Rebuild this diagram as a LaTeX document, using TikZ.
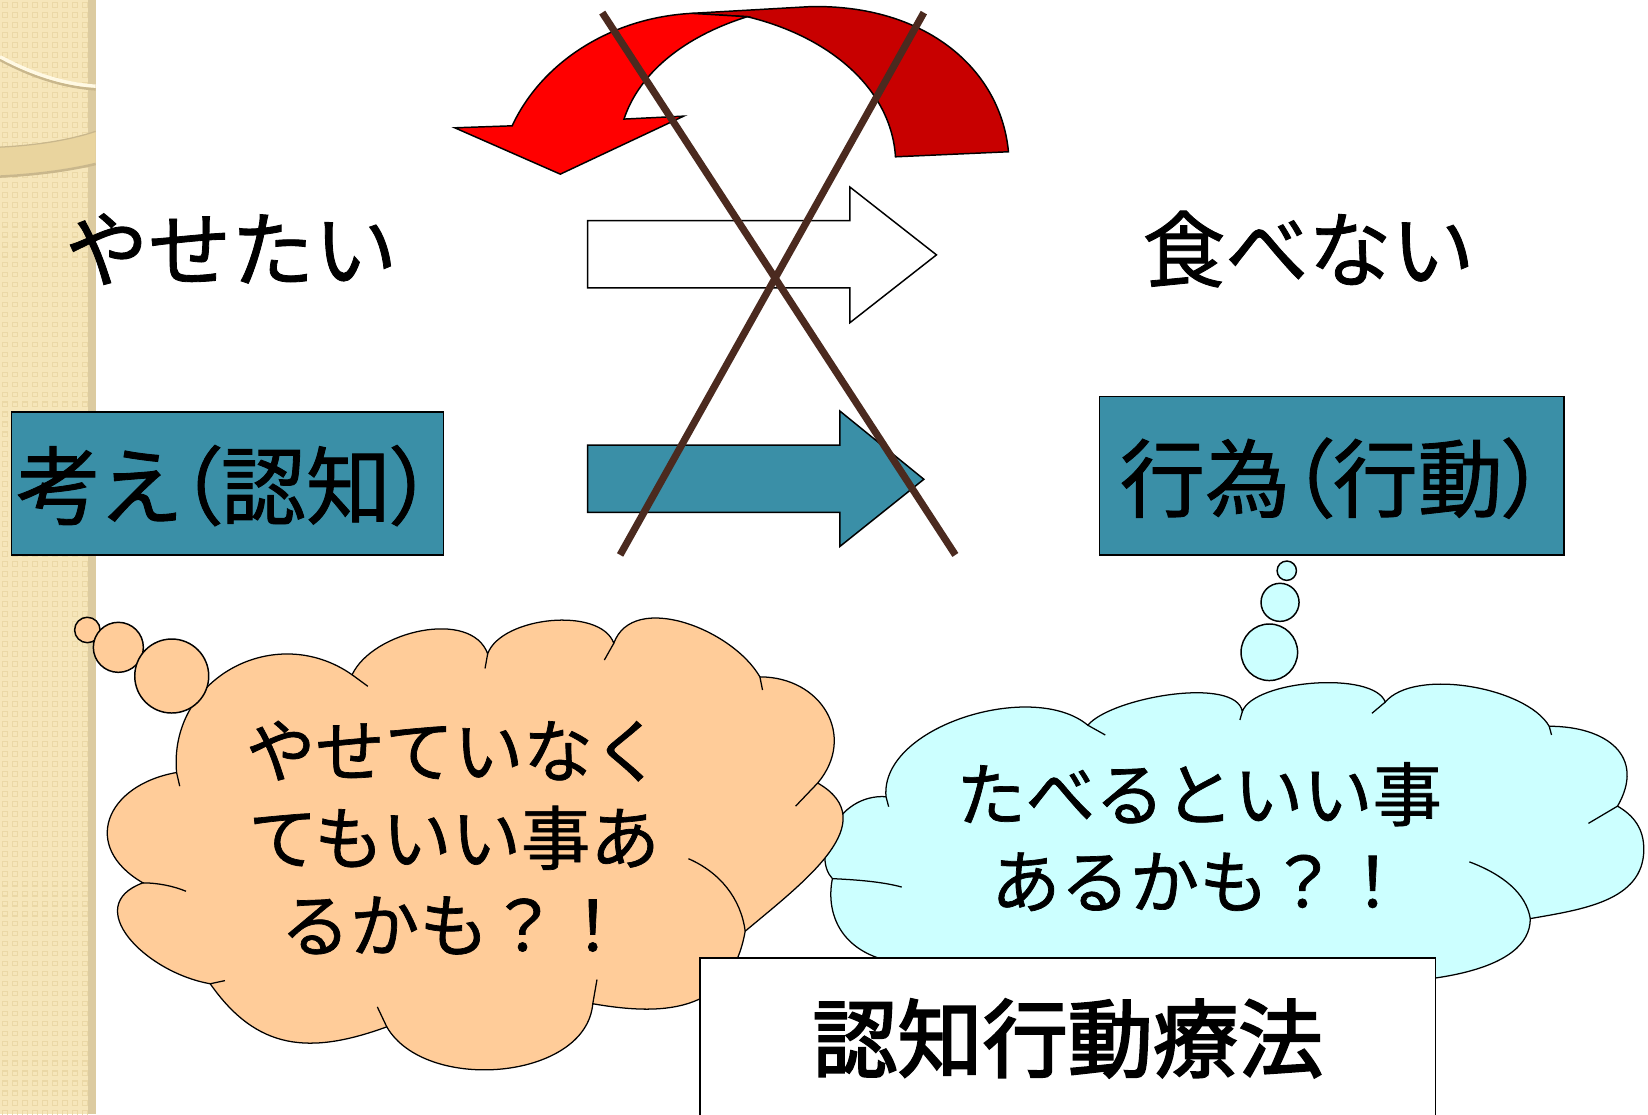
\documentclass[tikz,border=0pt]{standalone}
\usepackage{fontspec}
\newfontfamily\jp[FakeBold=1]{Noto Sans CJK JP}
\newfontfamily\jpp[RawFeature=+palt,FakeBold=1]{Noto Sans CJK JP}
\newfontfamily\jpb[FakeBold=2.5]{Noto Sans CJK JP}
\definecolor{stripbg}{HTML}{F6E6BA}
\definecolor{stripsq}{HTML}{EBD8A6}
\definecolor{stripedge}{HTML}{DCCBA0}
\definecolor{bandfill}{HTML}{E9D49E}
\definecolor{bandline}{HTML}{C9B78C}
\definecolor{creamline}{HTML}{FFF9E4}
\definecolor{tealbox}{HTML}{3A8FA7}
\definecolor{redbright}{HTML}{FF0000}
\definecolor{reddark}{HTML}{C80000}
\definecolor{crossbrown}{HTML}{4B2A1F}
\definecolor{orangefill}{HTML}{FFCC99}
\definecolor{bluefill}{HTML}{CCFFFF}
\begin{document}
\begin{tikzpicture}[x=0.5pt,y=-0.5pt,
  outl/.style={draw=black,line width=0.7pt},
  bigtext/.style={font=\jp\fontsize{39.5}{47}\selectfont,inner sep=0pt},
  boxtext/.style={font=\jpp\fontsize{40.5}{49}\selectfont,inner sep=0pt},
  cloudtext/.style={font=\jp\fontsize{33}{41.5}\selectfont,align=center,inner sep=0pt},
  tealrect/.style={outl,fill=tealbox,inner sep=0pt},
  xline/.style={draw=crossbrown,line width=3.4pt},
  tick/.style={draw=black,line width=0.6pt},
  ocloud/.style={outl,fill=orangefill,line width=0.6pt},
  bcloud/.style={outl,fill=bluefill,line width=0.6pt},
  obubble/.style={outl,fill=orangefill},
  bbubble/.style={outl,fill=bluefill}]
\useasboundingbox (0,0) rectangle (1568,1060);
\clip (0,0) rectangle (1568,1060);
% ---------- left decorative strip ----------
\fill[stripbg] (0,0) rectangle (84,1060);
\foreach \i in {0,...,8}{
  \foreach \j in {0,...,111}{
    \draw[stripsq,line width=0.5pt] (\i*9.5+2.5,\j*9.5+2.5) rectangle ++(4.5,4.5);
  }
}
\fill[stripedge] (84,0) rectangle (91,1060);
\fill[bandfill] (0,140) .. controls (40,138) and (70,132) .. (91,125)
  -- (91,155) .. controls (70,160) and (40,165) .. (0,167) -- cycle;
\draw[bandline,line width=0.6pt] (0,140) .. controls (40,138) and (70,132) .. (91,125);
\draw[bandline,line width=1.2pt] (0,168) .. controls (40,166) and (70,161) .. (91,156);
\draw[bandline,line width=1.2pt] (0,57) .. controls (30,73) and (60,83) .. (91,85);
\draw[creamline,line width=1.6pt] (0,54) .. controls (30,70) and (60,80) .. (91,82);
% ---------- red curved arrow ----------
\path[outl,fill=reddark] (658,12.7) -- (771,6.3) .. controls (880,4) and (952,65) .. (959.5,144.4)
  -- (852,149.2) .. controls (848,85) and (790,35) .. (711,15.9) -- cycle;
\path[outl,fill=redbright] (658,12.7) .. controls (580,17) and (515,60) .. (487.3,119.7)
  -- (432.7,121.6) -- (533.1,165.7) -- (650.5,110.5) -- (593.7,113.3)
  .. controls (608,70) and (650,35) .. (711,15.9) -- cycle;
% ---------- block arrows ----------
\path[outl,fill=white] (559,210) -- (808.7,210) -- (808.7,178) -- (891,242.5)
  -- (808.7,307) -- (808.7,274) -- (559,274) -- cycle;
\path[outl,fill=tealbox] (559,423.5) -- (799,423.5) -- (799,391) -- (879,456)
  -- (799,520) -- (799,487.5) -- (559,487.5) -- cycle;
% ---------- labels ----------
\node[bigtext] (yasetai) at (220,237) {やせたい};
\node[bigtext] (tabenai) at (1245,237) {食べない};
\node[tealrect,minimum width=205.5pt,minimum height=68pt] (ninchi) at (216.5,460) {};
\node[boxtext] (ninchitext) at (214,462) {考え（認知）};
\node[tealrect,minimum width=221pt,minimum height=75.5pt] (koudou) at (1267,452.5) {};
\node[boxtext] (koudoutext) at (1268,455) {行為（行動）};
% ---------- cross ----------
\coordinate (c1a) at (573,12); \coordinate (c1b) at (909,528);
\coordinate (c2a) at (879,12); \coordinate (c2b) at (590,528);
\draw[xline] (c1a) -- (c1b);
\draw[xline] (c2a) -- (c2b);
% ---------- blue cloud ----------
\path[bcloud] (843,758)
  to[out=95,in=140,looseness=0.85] (1035,690)
  to[out=50,in=100,looseness=0.6] (1182,677)
  to[out=70,in=110,looseness=0.6] (1318,668)
  to[out=50,in=120,looseness=0.7] (1474,691)
  to[out=0,in=60,looseness=1.4] (1539,767)
  to[out=-30,in=90] (1564,808)
  to[out=-90,in=10] (1456,874)
  to[out=-90,in=0,looseness=0.8] (1300,935)
  to[out=-100,in=-80,looseness=0.5] (880,918)
  .. controls (800,918) and (785,870) .. (792,836)
  .. controls (772,815) and (795,755) .. (843,758) -- cycle;
\draw[tick] (843,758) -- (845.5,767.5);
\draw[tick] (1035,690) -- (1051.6,699.3);
\draw[tick] (1182,677) -- (1179.7,685);
\draw[tick] (1318,668) -- (1305.3,678.7);
\draw[tick] (1474,691) -- (1476.2,699.3);
\draw[tick] (1539,767) -- (1511.3,783.4);
\draw[tick] (1398,820) .. controls (1430,832) and (1452,850) .. (1456,874);
\draw[tick] (792,836) .. controls (815,837) and (840,839) .. (858,844);
% ---------- orange cloud ----------
\path[ocloud] (168,735)
  to[out=95,in=145,looseness=1.2] (335,642)
  to[out=65,in=110,looseness=0.9] (464,622)
  to[out=70,in=110,looseness=0.8] (584,612)
  to[out=70,in=120,looseness=0.95] (723,644)
  to[out=0,in=50,looseness=1.3] (778,745)
  to[out=-30,in=40,looseness=1.2] (709,886)
  to[out=-100,in=-10,looseness=1.2] (564,955)
  to[out=-95,in=-60,looseness=0.95] (368,977)
  to[out=200,in=-55,looseness=1.15] (200,936)
  to[out=170,in=200,looseness=1.4] (136,840)
  to[out=150,in=190,looseness=1.6] (168,735) -- cycle;
\draw[tick] (168,735) -- (171,748);
\draw[tick] (335,642) -- (350,653);
\draw[tick] (464,622) -- (461.5,636);
\draw[tick] (584,612) -- (575,628);
\draw[tick] (723,644) -- (725.5,656.5);
\draw[tick] (778,745) -- (757,767);
\draw[tick] (655,817) .. controls (685,830) and (705,855) .. (709,886);
\draw[tick] (568,932) -- (564,955);
\draw[tick] (359,958) -- (368,977);
\draw[tick] (200,936) -- (214,933);
\draw[tick] (136,840) .. controls (150,840) and (165,843) .. (177,848);
% ---------- thought bubbles ----------
\path[obubble] (83.1,599.4) circle[radius=12.1];
\path[obubble] (112.6,615.9) circle[radius=23.8];
\path[obubble] (163.4,643.2) circle[radius=35.2];
\path[bbubble] (1224.3,543) circle[radius=9.2];
\path[bbubble] (1217.9,573.1) circle[radius=18.1];
\path[bbubble] (1207.7,620.6) circle[radius=26.9];
% ---------- cloud texts ----------
\node[cloudtext] (otext) at (432,797) {やせていなく\\てもいい事あ\\るかも？！};
\node[cloudtext] (btext) at (1141,796) {たべるといい事\\あるかも？！};
% ---------- bottom box ----------
\node[outl,fill=white,minimum width=350pt,minimum height=85pt,anchor=north,inner sep=0pt] (therapy) at (1016,911) {};
\node[font=\jpb\fontsize{40.5}{48}\selectfont,inner sep=0pt] (therapytext) at (1016,988) {認知行動療法};
\end{tikzpicture}
\end{document}
